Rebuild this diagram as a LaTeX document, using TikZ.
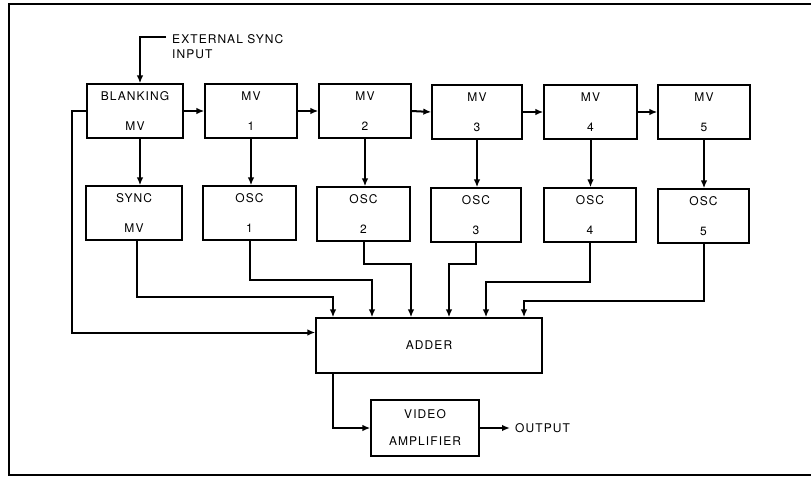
\documentclass[tikz,border=0pt]{standalone}
\usepackage{fontspec}
\setmainfont{TeX Gyre Heros}[LetterSpace=9]
\usetikzlibrary{arrows.meta}
\begin{document}
\begin{tikzpicture}[x=1pt,y=-1pt,
  blk/.style={draw, line width=1.3pt, minimum width=92pt, minimum height=54pt, inner sep=0pt, align=center, font=\fontsize{12}{15}\selectfont},
  lbl/.style={inner sep=0pt, align=left, font=\fontsize{12}{15}\selectfont},
  arr/.style={line width=2pt, -{Latex[length=8pt,width=6.5pt]}},
  ln/.style={line width=2pt}]
\useasboundingbox (0,0) rectangle (811,477);
\draw[line width=2pt] (811,4) -- (9,4) -- (9,475) -- (811,475);
% top row
\node[blk, minimum width=96pt] (bl)  at (135,111) {BLANKING\\[15pt]MV};
\node[blk] (mv1) at (251,111) {MV\\[15pt]1};
\node[blk] (mv2) at (365,111) {MV\\[15pt]2};
\node[blk, minimum width=90pt] (mv3) at (477,112) {MV\\[15pt]3};
\node[blk, minimum width=93pt] (mv4) at (590.5,112) {MV\\[15pt]4};
\node[blk] (mv5) at (704,112) {MV\\[15pt]5};
% second row
\node[blk, minimum width=96pt] (sync) at (134,213) {SYNC\\[15pt]MV};
\node[blk, minimum width=93pt] (osc1) at (249.5,213) {OSC\\[15pt]1};
\node[blk, minimum width=93pt] (osc2) at (363.5,214) {OSC\\[15pt]2};
\node[blk, minimum width=90pt] (osc3) at (476,215) {OSC\\[15pt]3};
\node[blk] (osc4) at (590,215) {OSC\\[15pt]4};
\node[blk, minimum width=91pt] (osc5) at (703.5,216) {OSC\\[15pt]5};
% adder and amplifier
\node[blk, minimum width=226pt, minimum height=55pt] (add) at (429,345.5) {ADDER};
\node[blk, minimum width=108pt, minimum height=56pt] (vid) at (425,428) {VIDEO\\[12pt]AMPLIFIER};
% external sync input
\coordinate (ext) at (166,37);
\node[lbl, anchor=west] (extl) at (172,47) {EXTERNAL SYNC\\INPUT};
\draw[arr] (ext) -| ([xshift=5pt]bl.north);
% chain
\draw[arr] (bl.east) -- (mv1.west);
\draw[arr] (mv1.east) -- (mv2.west);
\draw[arr] (mv2.east) -- (mv3.west);
\draw[arr] (mv3.east) -- (mv4.west);
\draw[arr] (mv4.east) -- (mv5.west);
% verticals
\draw[arr] ([xshift=5pt]bl.south) -- ([xshift=5pt]bl.south |- sync.north);
\draw[arr] (mv1.south) -- (mv1.south |- osc1.north);
\draw[arr] (mv2.south) -- (mv2.south |- osc2.north);
\draw[arr] (mv3.south) -- (mv3.south |- osc3.north);
\draw[arr] (mv4.south) -- (mv4.south |- osc4.north);
\draw[arr] (mv5.south) -- (mv5.south |- osc5.north);
% to adder
\draw[arr] ([xshift=3pt]sync.south) -- ++(0,56) -| ([xshift=-96pt]add.north);
\draw[arr] (osc1.south) -- ++(0,39) -| ([xshift=-57pt]add.north);
\draw[arr] (osc2.south) -- ++(0,22) -| ([xshift=-18pt]add.north);
\draw[arr] (osc3.south) -- ++(0,21) -| ([xshift=20pt]add.north);
\draw[arr] (osc4.south) -- ++(0,39) -| ([xshift=57pt]add.north);
\draw[arr] (osc5.south) -- ++(0,57) -| ([xshift=95pt]add.north);
\draw[arr] (bl.west) -- ++(-14,0) |- ([yshift=13pt]add.west);
% adder to amplifier, output
\draw[arr] ([xshift=-96pt]add.south) |- (vid.west);
\coordinate (out) at (510,428);
\draw[arr] (vid.east) -- (out);
\node[lbl, anchor=west] (outl) at (515,428) {OUTPUT};
\end{tikzpicture}
\end{document}
